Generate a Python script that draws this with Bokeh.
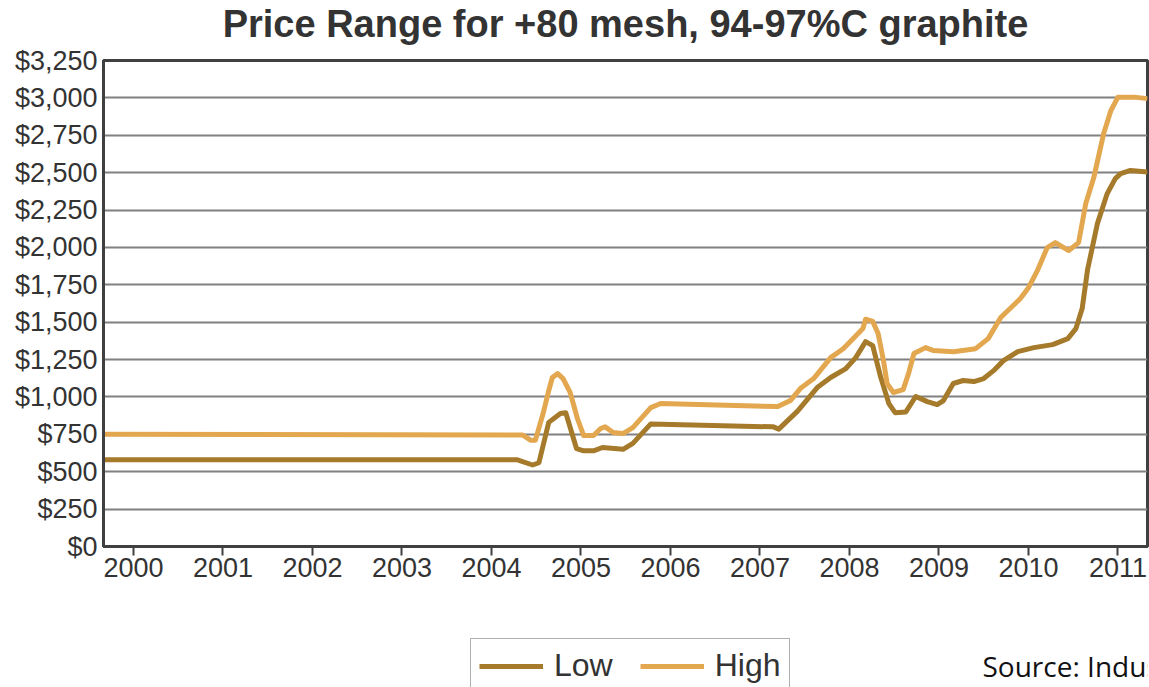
from bokeh.plotting import figure
from bokeh.layouts import column
from bokeh.models import (Range1d, FixedTicker, NumeralTickFormatter, Legend,
                          LegendItem, Label)
from bokeh.embed import file_html
from bokeh.resources import INLINE

# Graphite +80 mesh, 94-97%C price range, US$ per tonne (decimal years)
low_year = [1999.665, 2004.29, 2004.46, 2004.53, 2004.64, 2004.77, 2004.83,
            2004.95, 2005.03, 2005.14, 2005.24, 2005.47, 2005.58, 2005.78,
            2007.15, 2007.21, 2007.42, 2007.64, 2007.79, 2007.96, 2008.07,
            2008.18, 2008.26, 2008.31, 2008.35, 2008.44, 2008.51, 2008.63,
            2008.74, 2008.87, 2008.98, 2009.05, 2009.16, 2009.27, 2009.39,
            2009.50, 2009.61, 2009.72, 2009.88, 2010.06, 2010.27, 2010.44,
            2010.53, 2010.60, 2010.66, 2010.77, 2010.88, 2010.97, 2011.03,
            2011.14, 2011.33]
low_price = [580, 580, 545, 560, 830, 890, 895,
             655, 640, 640, 662, 650, 690, 820,
             800, 785, 905, 1063, 1130, 1190, 1263,
             1370, 1343, 1223, 1130, 956, 895, 900,
             1003, 969, 949, 976, 1090, 1110, 1103,
             1123, 1176, 1243, 1303, 1330, 1350, 1390,
             1457, 1591, 1850, 2159, 2360, 2460, 2493,
             2515, 2505]

high_year = [1999.665, 2004.35, 2004.44, 2004.49, 2004.58, 2004.64, 2004.68,
             2004.74, 2004.80, 2004.88, 2004.96, 2005.03, 2005.14, 2005.22,
             2005.27, 2005.36, 2005.47, 2005.58, 2005.78, 2005.89, 2007.20,
             2007.34, 2007.45, 2007.60, 2007.79, 2007.93, 2008.04, 2008.15,
             2008.18, 2008.26, 2008.32, 2008.38, 2008.42, 2008.49, 2008.60,
             2008.66, 2008.72, 2008.85, 2008.94, 2009.16, 2009.41, 2009.55,
             2009.69, 2009.91, 2010.00, 2010.10, 2010.21, 2010.30, 2010.45,
             2010.56, 2010.64, 2010.73, 2010.84, 2010.92, 2011.00, 2011.18,
             2011.33]
high_price = [750, 745, 710, 710, 896, 1043, 1130,
              1156, 1123, 1029, 856, 742, 742, 789,
              800, 762, 755, 795, 929, 956, 936,
              976, 1056, 1123, 1263, 1323, 1390, 1457,
              1520, 1505, 1424, 1243, 1090, 1030, 1049,
              1156, 1290, 1330, 1310, 1303, 1323, 1390,
              1531, 1658, 1731, 1845, 1999, 2032, 1979,
              2032, 2293, 2467, 2761, 2914, 3005, 3005,
              2995]

year_ticks = [2000, 2001, 2002, 2003, 2004, 2005, 2006, 2007, 2008, 2009, 2010, 2011]
year_labels = ["2000", "2001", "2002", "2003", "2004", "2005", "2006", "2007",
               "2008", "2009", "2010", "2011"]
price_ticks = [0, 250, 500, 750, 1000, 1250, 1500, 1750, 2000, 2250, 2500,
               2750, 3000, 3250]

LOW_COLOR = "#A67A2B"
HIGH_COLOR = "#E2A74F"
INK = "#333333"
FONT = "Liberation Sans"


def blank_strip(height):
    """A figure with no axes or grid, used as a text/legend band."""
    f = figure(width=1149, height=height, output_backend="svg",
               toolbar_location=None, x_range=Range1d(0, 1), y_range=Range1d(0, 1),
               x_axis_location=None, y_axis_location=None,
               min_border_left=0, min_border_right=0, min_border_top=0,
               min_border_bottom=0)
    f.grid.visible = False
    f.outline_line_color = None
    f.background_fill_color = "white"
    f.border_fill_color = "white"
    return f


# ---- title band ----
head = blank_strip(45)
head.add_layout(Label(x=522, y=22, x_units="screen", y_units="screen",
                      text="Price Range for +80 mesh, 94-97%C graphite",
                      text_font=FONT, text_font_size="38px",
                      text_font_style="bold", text_color=INK,
                      text_align="center", text_baseline="middle"))

# ---- main chart ----
p = figure(width=1149, height=555, output_backend="svg", toolbar_location=None,
           x_range=Range1d(1999.665, 2011.33), y_range=Range1d(0, 3250),
           min_border_left=103, min_border_right=2, min_border_top=15,
           min_border_bottom=54)

p.background_fill_color = "white"
p.border_fill_color = "white"
p.outline_line_color = "#404040"
p.outline_line_width = 3

p.xgrid.visible = False
p.ygrid.ticker = FixedTicker(ticks=price_ticks)
p.ygrid.grid_line_color = "#808080"
p.ygrid.grid_line_width = 2

xa = p.xaxis[0]
xa.ticker = FixedTicker(ticks=year_ticks)
xa.major_label_overrides = {t: s for t, s in zip(year_ticks, year_labels)}
xa.major_tick_out = 9
xa.major_tick_in = 0
xa.minor_tick_out = 0
xa.minor_tick_in = 0
xa.major_tick_line_color = "#404040"
xa.major_tick_line_width = 2
xa.axis_line_color = "#404040"
xa.axis_line_width = 3
xa.major_label_text_font = FONT
xa.major_label_text_font_size = "27px"
xa.major_label_text_color = INK
xa.major_label_standoff = 2

ya = p.yaxis[0]
ya.ticker = FixedTicker(ticks=price_ticks)
ya.formatter = NumeralTickFormatter(format="$0,0")
ya.major_tick_out = 0
ya.major_tick_in = 0
ya.minor_tick_out = 0
ya.minor_tick_in = 0
ya.axis_line_color = "#404040"
ya.axis_line_width = 3
ya.major_label_text_font = FONT
ya.major_label_text_font_size = "27px"
ya.major_label_text_color = INK
ya.major_label_standoff = 6

p.line(low_year, low_price, line_color=LOW_COLOR, line_width=5, line_join="round")
p.line(high_year, high_price, line_color=HIGH_COLOR, line_width=5, line_join="round")

# ---- legend and source band ----
foot = blank_strip(87)
# key renderers: the series lie outside this band's 0..1 ranges, so only
# their legend swatches show
key_low = foot.line(low_year, low_price, line_color=LOW_COLOR, line_width=5)
key_high = foot.line(high_year, high_price, line_color=HIGH_COLOR, line_width=5)

legend = Legend(items=[LegendItem(label="Low", renderers=[key_low]),
                       LegendItem(label="High", renderers=[key_high])],
                orientation="horizontal", location=(367, -6),
                label_text_font=FONT, label_text_font_size="32px",
                label_text_color=INK, glyph_width=64, glyph_height=30,
                label_standoff=11, spacing=27, padding=8, margin=0,
                border_line_color="#606060", border_line_width=1.5,
                background_fill_alpha=1.0)
foot.add_layout(legend, "center")

foot.add_layout(Label(x=879, y=22, x_units="screen", y_units="screen",
                      text="Source: Industrial Minerals", text_font="Open Sans",
                      text_font_size="28px", text_color="#111111",
                      text_baseline="middle"))

open("out.html", "w").write(file_html(column(head, p, foot, spacing=0), INLINE))
